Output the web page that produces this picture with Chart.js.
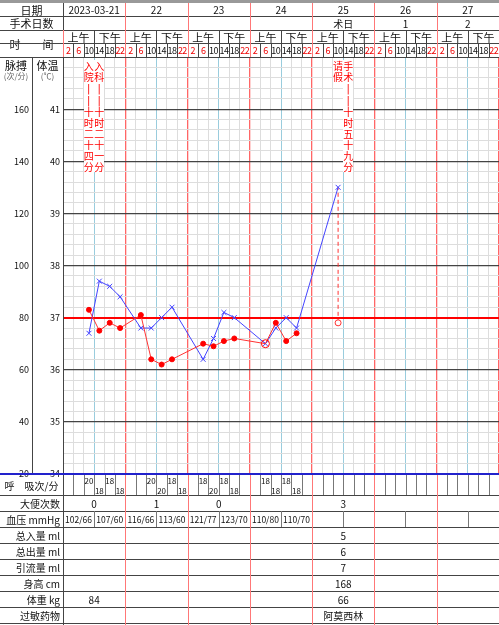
<!DOCTYPE html>
<html><head><meta charset="utf-8">
<script src="https://cdn.jsdelivr.net/npm/chart.js@4"></script>
<style>
body{margin:0;background:#fff;font-family:"Noto Sans CJK SC","DejaVu Sans",sans-serif;}
#wrap{position:relative;width:499px;height:625px;overflow:hidden;}
.c{position:absolute;box-sizing:border-box;display:flex;align-items:center;justify-content:center;font-size:10px;color:#111;white-space:nowrap;}
.ln{position:absolute;}
#cv{position:absolute;left:63px;top:57px;}
.v{position:absolute;color:#f00;font-size:10px;line-height:11px;width:10px;text-align:center;background:#fff;font-family:"Noto Sans CJK SC",sans-serif;}
</style></head><body>
<div id="wrap"><canvas id="cv" width="436" height="417"></canvas></div>
<script>
const dates = ['2023-03-21', '22', '23', '24', '25', '26', '27'];
const opDays = ['', '', '', '', '术日', '1', '2'];
const hours = ['2', '6', '10', '14', '18', '22'];
const tempTicks = [41, 40, 39, 38, 37, 36, 35, 34];
const pulseTicks = [160, 140, 120, 100, 80, 60, 40, 20];
// slot index 0..41 (7 days x 6)
const tempSlots = [2, 3, 4, 5, 7, 8, 9, 10, 13, 14, 15, 16, 19, 20, 21, 22];
const tempValues = [37.15, 36.75, 36.9, 36.8, 37.05, 36.2, 36.1, 36.2, 36.5, 36.45, 36.55, 36.6, 36.5, 36.9, 36.55, 36.7];
const pulseSlots = [2, 3, 4, 5, 7, 8, 9, 10, 13, 14, 15, 16, 19, 20, 21, 22, 26];
const pulseValues = [74, 94, 92, 88, 76, 76, 80, 84, 64, 72, 82, 80, 70, 76, 80, 76, 130];
const coolSlot = 26, coolFrom = 36.9, coolTo = 39.5;
const breathSlots = [2, 3, 4, 5, 8, 9, 10, 11, 13, 14, 15, 16, 19, 20, 21, 22];
const breathValues = [20, 18, 18, 18, 20, 20, 18, 18, 18, 20, 18, 18, 18, 18, 18, 18];
const stoolValues = ['0', '1', '0', '', '3', '', ''];
const bpValues = ['102/66', '107/60', '116/66', '113/60', '121/77', '123/70', '110/80', '110/70'];
const notes = [
  {slot: 2, text: '入院||十时二十四分'},
  {slot: 3, text: '入科||十时二十一分'},
  {slot: 26, text: '请假'},
  {slot: 27, text: '手术||十时五十九分'}
];

const W = document.getElementById('wrap');
const X0 = 63, SW = 436 / 42, DW = SW * 6;
function cell(x, y, w, h, t, st) {
  const d = document.createElement('div'); d.className = 'c';
  Object.assign(d.style, {left: x + 'px', top: y + 'px', width: w + 'px', height: h + 'px'}, st || {});
  d.textContent = t; W.appendChild(d); return d;
}
function line(x, y, w, h, col) {
  const d = document.createElement('div'); d.className = 'ln';
  Object.assign(d.style, {left: x + 'px', top: y + 'px', width: w + 'px', height: h + 'px', background: col});
  W.appendChild(d);
}
// header
line(0, 0, 499, 3, '#999');
cell(0, 3, 63, 13, '日期', {fontSize: '11px'});
cell(0, 16, 63, 14, '手术日数', {fontSize: '11px'});
cell(0, 30, 63, 27, '时　　间', {fontSize: '11px'});
dates.forEach((d, i) => {
  cell(X0 + i * DW, 3, DW, 13, d);
  cell(X0 + i * DW, 16, DW, 14, opDays[i]);
  cell(X0 + i * DW, 30, DW / 2, 13, '上午', {fontSize: '11px'});
  cell(X0 + i * DW + DW / 2, 30, DW / 2, 13, '下午', {fontSize: '11px'});
  hours.forEach((h, j) => cell(X0 + i * DW + j * SW, 43, SW, 14, h,
    {color: (j < 2 || j == 5) ? '#e00' : '#111', fontSize: '9px', letterSpacing: '-0.5px'}));
});
[16, 30, 43, 57].forEach(y => line(0, y, 499, 1, '#444'));
line(63, 3, 1, 470, '#444'); line(32, 57, 1, 416, '#444');
for (let i = 0; i < 42; i++) {
  const x = X0 + i * SW;
  if (i % 3 == 0) line(x, 30, 1, 27, i % 6 == 0 ? '#f77' : '#444');
  else line(x, 43, 1, 14, '#444');
}
for (let i = 1; i < 7; i++) line(X0 + i * DW, 3, 1, 27, '#f77');
cell(0, 59, 32, 12, '脉搏', {fontSize: '11px'});
cell(0, 70, 32, 10, '(次/分)', {fontSize: '8px', color: '#666'});
cell(32, 59, 31, 12, '体温', {fontSize: '11px'});
cell(32, 70, 31, 10, '(℃)', {fontSize: '8px', color: '#666'});
tempTicks.forEach((t, i) => {
  const y = 57 + (42 - t) * 52;
  cell(0, y - 6, 32, 12, pulseTicks[i], {fontSize: '9px', justifyContent: 'flex-end', paddingRight: '3px'});
  cell(32, y - 6, 31, 12, t, {fontSize: '9px', justifyContent: 'flex-end', paddingRight: '3px'});
});
notes.forEach(n => {
  const d = document.createElement('div'); d.className = 'v';
  d.style.left = (X0 + n.slot * SW) + 'px'; d.style.top = '60px';
  d.innerHTML = n.text.split('').map(c => c == '|' ? '<span style="font-family:DejaVu Sans">|</span>' : c).join('<br>');
  W.appendChild(d);
});

// lower table
line(0, 473, 499, 2, '#22c');
const rowsY = [475, 495, 511, 527, 543, 559, 575, 591, 607, 623];
rowsY.slice(1).forEach(y => line(0, y, 499, 1, '#444'));
cell(0, 475, 63, 20, '呼　吸次/分');
['大便次数', '血压 mmHg', '总入量 ml', '总出量 ml', '引流量 ml', '身高 cm', '体重 kg', '过敏药物'].forEach((t, i) =>
  cell(0, rowsY[i + 1], 60, 16, t, {justifyContent: 'flex-end'}));
for (let i = 0; i <= 42; i++) line(X0 + i * SW, 475, 1, 20, '#777');
breathSlots.forEach((s, i) => cell(X0 + s * SW, i % 2 ? 485 : 475, SW, 10, breathValues[i], {fontSize: '8px'}));
stoolValues.forEach((v, i) => cell(X0 + i * DW, 495, DW, 16, v));
bpValues.forEach((v, i) => cell(X0 + i * DW / 2, 511, DW / 2, 16, v, {fontSize: '8.5px'}));
for (let i = 1; i <= 8; i++) line(X0 + i * DW / 2, 511, 1, 16, '#777');
[343, 405, 468].forEach(x => line(x, 511, 1, 16, '#777'));
const d5 = X0 + 4 * DW;
[['5', 527], ['6', 543], ['7', 559], ['168', 575], ['66', 591], ['阿莫西林', 607]].forEach(r => cell(d5, r[1], DW, 16, r[0]));
cell(X0, 591, DW, 16, '84');
line(63, 475, 1, 150, '#444');
for (let i = 1; i < 7; i++) line(X0 + i * DW, 475, 1, 150, '#f77');

// chart
const pts = (s, v) => s.map((x, i) => ({x: x + 0.5, y: v[i]}));
new Chart(document.getElementById('cv'), {
  type: 'line',
  data: {datasets: [
    {data: pts(tempSlots, tempValues), borderColor: '#f33', backgroundColor: '#f00', borderWidth: 1,
     pointRadius: tempSlots.map(s => s == 19 ? 4 : 2.5), pointBackgroundColor: tempSlots.map(s => s == 19 ? 'rgba(0,0,0,0)' : '#f00'),
     pointBorderColor: '#f00', yAxisID: 'y'},
    {data: pts(pulseSlots, pulseValues), borderColor: '#44f', borderWidth: 1, pointStyle: 'cross', pointRotation: 45,
     pointRadius: 3.5, pointBorderColor: '#44f', yAxisID: 'y1'},
    {data: [{x: coolSlot + 0.5, y: coolFrom}, {x: coolSlot + 0.5, y: coolTo}], borderColor: '#f33', borderDash: [4, 3],
     borderWidth: 1, pointRadius: [3, 0], pointBackgroundColor: '#fff', pointBorderColor: '#f33', yAxisID: 'y'}
  ]},
  options: {
    responsive: false, animation: false, layout: {padding: 0, autoPadding: false},
    plugins: {legend: {display: false}, tooltip: {enabled: false}},
    scales: {
      x: {type: 'linear', min: 0, max: 42, ticks: {display: false, stepSize: 1, padding: 0}, border: {display: false},
          grid: {drawTicks: false, tickLength: 0, color: c => c.tick.value % 6 == 0 ? '#f66' : c.tick.value % 6 == 3 ? '#9cd' : '#ddd', lineWidth: c => c.tick.value % 6 == 0 ? 1.3 : 1}},
      y: {min: 34, max: 42, ticks: {display: false, stepSize: 0.2, padding: 0}, border: {display: false},
          grid: {drawTicks: false, tickLength: 0, color: c => { const v = Math.round(c.tick.value * 5); return v == 185 ? '#f00' : v % 5 == 0 ? '#444' : '#ddd'; },
                 lineWidth: c => { const v = Math.round(c.tick.value * 5); return v == 185 ? 2 : v % 5 == 0 ? 1.2 : 1; }}},
      y1: {display: false, min: 20, max: 180}
    }
  }
});
</script></body></html>
